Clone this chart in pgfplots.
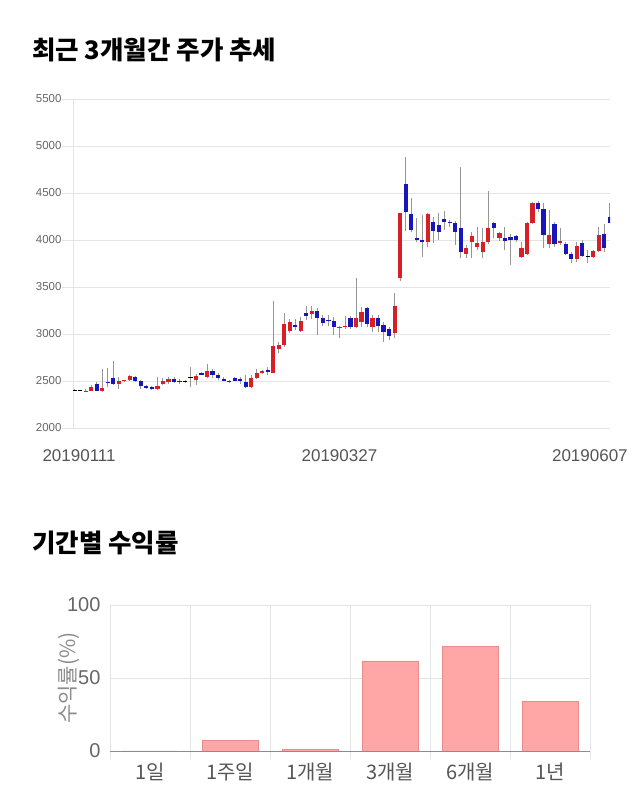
\documentclass[border=0pt]{standalone}
\usepackage{fontspec}
\setmainfont{Liberation Sans}
\newfontfamily\kr{Noto Sans CJK KR}
\usepackage{pgfplots}
\usepackage{pgfplotstable}
\pgfplotsset{compat=1.18}

\definecolor{upred}{RGB}{214,32,38}
\definecolor{dnblue}{RGB}{22,22,186}
\definecolor{wick}{RGB}{150,150,150}
\definecolor{gridc}{RGB}{228,228,228}
\definecolor{barfill}{RGB}{255,166,166}
\definecolor{barline}{RGB}{236,140,140}
\definecolor{lab}{RGB}{102,102,102}
\definecolor{labx}{RGB}{85,85,85}
\definecolor{ylab}{RGB}{140,140,140}

% candles: index, open, high, low, close
\pgfplotstableread{
i o h l c
2 2385 2410 2378 2397
3 2395 2460 2392 2440
5 2390 2630 2385 2425
8 2465 2540 2420 2500
9 2495 2515 2490 2510
10 2510 2565 2505 2553
15 2415 2540 2405 2443
16 2470 2530 2460 2495
17 2485 2540 2470 2520
22 2511 2578 2455 2556
24 2546 2678 2529 2610
32 2435 2560 2430 2529
33 2530 2624 2518 2582
34 2590 2620 2575 2602
36 2590 3355 2585 2872
37 2845 2915 2800 2883
38 2883 3227 2865 3103
39 3035 3160 3010 3124
41 3035 3180 3020 3142
43 3210 3300 3160 3248
48 3064 3090 2960 3078
49 3071 3190 3050 3085
51 3071 3596 3060 3174
52 3131 3290 3078 3231
54 3078 3200 3025 3174
58 3007 3440 2954 3301
59 3593 4290 3560 4284
64 3976 4284 3929 4277
71 3851 3947 3805 3918
72 3982 4089 3805 4043
73 3929 4142 3894 3972
74 3869 4124 3805 3976
75 3976 4525 3960 4124
77 4018 4090 3993 4071
81 3816 3982 3805 3912
82 3848 4195 3838 4178
83 4178 4408 4170 4390
86 3955 4320 3912 4053
88 3965 4124 3947 3993
91 3795 3982 3770 3936
94 3823 3890 3810 3886
95 3886 4142 3870 4053
}\upc

\pgfplotstableread{
i o h l c
4 2465 2493 2390 2395
6 2492 2640 2440 2478
7 2530 2710 2455 2465
11 2545 2550 2490 2495
12 2500 2515 2420 2450
13 2450 2455 2415 2425
14 2436 2450 2405 2420
18 2520 2545 2475 2493
19 2500 2520 2470 2488
23 2582 2600 2560 2565
25 2610 2630 2530 2565
26 2564 2580 2510 2535
27 2520 2545 2495 2505
28 2505 2515 2480 2488
29 2528 2540 2495 2500
30 2518 2545 2470 2505
31 2493 2560 2430 2435
35 2617 2650 2560 2595
40 3096 3160 3040 3072
42 3227 3295 3152 3195
44 3245 3280 2990 3167
45 3167 3200 3080 3120
46 3153 3200 3080 3142
47 3138 3185 2990 3078
50 3167 3190 3050 3078
53 3274 3290 3078 3103
55 3174 3202 3025 3089
56 3096 3130 2918 3025
57 3053 3078 2936 2982
60 4593 4880 4100 4295
61 4277 4445 4090 4107
62 4018 4230 3982 4000
63 4000 4266 3823 3976
65 4195 4248 3965 4096
66 4160 4284 4000 4089
67 4224 4309 4107 4190
68 4195 4215 4140 4180
69 4178 4200 3947 4089
70 4131 4774 3805 3876
76 4178 4195 4018 4131
78 4025 4142 3894 3993
79 4028 4060 3734 3995
80 4043 4053 3982 3995
84 4390 4410 4300 4327
85 4327 4390 3912 4053
87 4170 4195 3929 3955
89 3955 3982 3840 3851
90 3851 3870 3752 3795
92 3972 4000 3823 3830
96 4064 4170 3876 3912
97 4242 4390 4178 4185
}\dnc

\pgfplotstableread{
i o h l c
0 2400 2412 2392 2400
1 2398 2408 2390 2398
20 2493 2510 2478 2493
21 2535 2650 2440 2535
93 3823 3890 3757 3823
}\doji

\pgfplotstableread{
k r
0 0
1 7.5
2 1.1
3 61.7
4 71.5
5 33.8
}\ret

\begin{document}
\begin{tikzpicture}
\path[use as bounding box] (0pt,0pt) rectangle (640pt,810pt);

\node[anchor=west, inner sep=0pt] at (32pt,760pt)
  {\kr\bfseries\fontsize{25.5}{30}\selectfont 최근 3개월간 주가 추세};
\node[anchor=west, inner sep=0pt] at (32pt,267pt)
  {\kr\bfseries\fontsize{25.5}{30}\selectfont 기간별 수익률};

% ---- candlestick chart ----
\begin{axis}[
    at={(62pt,382pt)}, anchor=south west,
    scale only axis, width=548pt, height=329pt,
    xmin=-2.3, xmax=97.05,
    ymin=2000, ymax=5500,
    ytick={2000,2500,...,5500},
    scaled y ticks=false,
    /pgf/number format/1000 sep={},
    /pgf/number format/assume math mode=true,
    ymajorgrids, grid style={draw=gridc, line width=0.8pt},
    axis line style={draw=none},
    major tick length=0pt,
    xtick={0.8,48,93.4},
    xticklabels={20190111,20190327,20190607},
    extra x ticks={-0.2}, extra x tick labels={},
    extra x tick style={grid=major},
    xticklabel style={font=\fontsize{17}{20}\selectfont, text=labx, yshift=-18pt},
    yticklabel style={font=\fontsize{11.5}{13}\selectfont, text=lab, xshift=3pt},
  ]
  % wicks
  \addplot[draw=none, mark=none, forget plot,
    error bars/.cd, y dir=plus, y explicit, error mark=none,
    error bar style={draw=wick, line width=0.9pt}]
    table[x=i, y=l, y error plus expr=\thisrow{h}-\thisrow{l}] {\upc};
  \addplot[draw=none, mark=none, forget plot,
    error bars/.cd, y dir=plus, y explicit, error mark=none,
    error bar style={draw=wick, line width=0.9pt}]
    table[x=i, y=l, y error plus expr=\thisrow{h}-\thisrow{l}] {\dnc};
  \addplot[draw=none, mark=none, forget plot,
    error bars/.cd, y dir=plus, y explicit, error mark=none,
    error bar style={draw=wick, line width=0.9pt}]
    table[x=i, y=l, y error plus expr=\thisrow{h}-\thisrow{l}] {\doji};
  % bodies
  \addplot[draw=none, mark=none, forget plot,
    error bars/.cd, y dir=plus, y explicit, error mark=none,
    error bar style={draw=upred, line width=4.2pt, line cap=butt}]
    table[x=i, y=o, y error plus expr=\thisrow{c}-\thisrow{o}] {\upc};
  \addplot[draw=none, mark=none, forget plot,
    error bars/.cd, y dir=plus, y explicit, error mark=none,
    error bar style={draw=dnblue, line width=4.2pt, line cap=butt}]
    table[x=i, y=c, y error plus expr=\thisrow{o}-\thisrow{c}] {\dnc};
  \addplot[draw=none, mark=none, forget plot,
    error bars/.cd, x dir=both, x fixed=0.38, error mark=none,
    error bar style={draw=black, line width=1.1pt}]
    table[x=i, y=o] {\doji};
\end{axis}

% ---- returns bar chart ----
\begin{axis}[
    at={(110pt,59pt)}, anchor=south west,
    scale only axis, width=480pt, height=146pt,
    xmin=-0.5, xmax=5.5, ymin=0, ymax=100,
    ytick={0,50,100},
    /pgf/number format/assume math mode=true,
    xtick={0,...,5},
    xticklabels={{\kr 1일},{\kr 1주일},{\kr 1개월},{\kr 3개월},{\kr 6개월},{\kr 1년}},
    minor xtick={-0.5,0.5,1.5,2.5,3.5,4.5,5.5},
    xminorgrids, ymajorgrids,
    grid style={draw=gridc, line width=0.8pt},
    minor grid style={draw=gridc, line width=0.8pt},
    axis line style={draw=none},
    tick align=outside,
    xtick pos=left, ytick pos=left,
    major tick length=0pt,
    minor tick length=8pt,
    minor tick style={draw=gridc, line width=0.8pt},
    extra y ticks={0}, extra y tick labels={},
    extra y tick style={grid style={draw=ylab, line width=0.9pt}},
    xticklabel style={font=\fontsize{20}{24}\selectfont, text=labx, yshift=-8pt},
    yticklabel style={font=\fontsize{20}{24}\selectfont, text=lab, xshift=-6pt},
    ylabel={\kr 수익률(\%)},
    every axis y label/.style={at={(axis description cs:-0.085,0.5)}, rotate=90,
      anchor=center, font=\fontsize{21}{25}\selectfont, text=ylab},
  ]
  \addplot[ybar, bar width=0.7, fill=barfill, draw=barline, line width=0.8pt]
    table[x=k, y=r] {\ret};
\end{axis}
\end{tikzpicture}
\end{document}
